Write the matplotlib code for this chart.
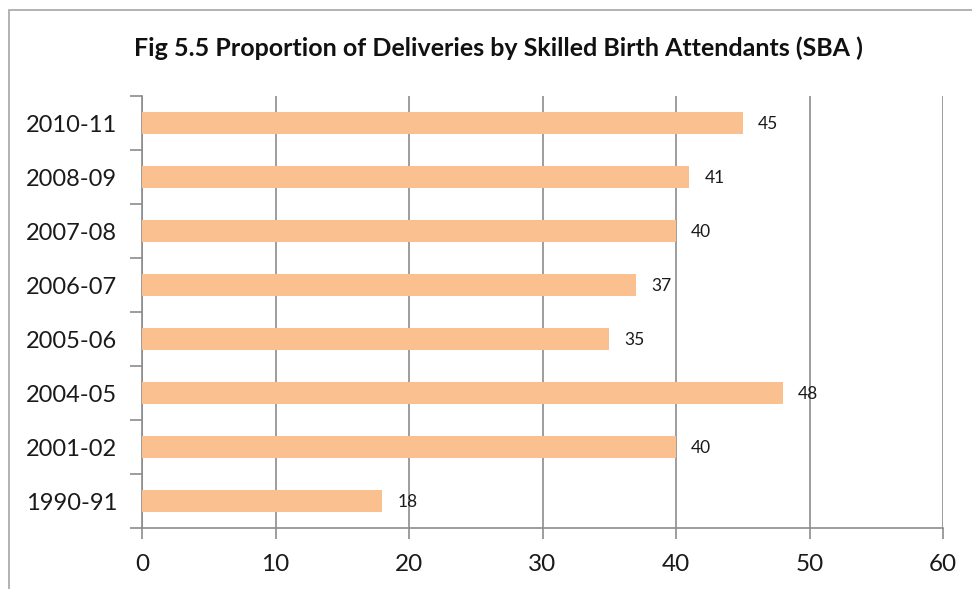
import matplotlib
matplotlib.use("Agg")
import matplotlib.pyplot as plt
from matplotlib.patches import Rectangle

categories = ["1990-91", "2001-02", "2004-05", "2005-06", "2006-07", "2007-08", "2008-09", "2010-11"]
values = [18, 40, 48, 35, 37, 40, 41, 45]
xticks = [0, 10, 20, 30, 40, 50, 60]
title = "Fig 5.5 Proportion of Deliveries by Skilled Birth Attendants (SBA )"

plt.rcParams['font.family'] = ['Lato', 'DejaVu Sans']

W, H = 972, 589
fig = plt.figure(figsize=(W / 100, H / 100), dpi=100)
fig.patch.set_facecolor('white')

# outer chart border (extends beyond right/bottom of image)
fig.patches.append(Rectangle((9 / W, -0.05), 1.1, (H - 10) / H + 0.05,
                             transform=fig.transFigure, fill=False,
                             edgecolor='#a6a6a6', linewidth=1.2))

ax = fig.add_axes([142 / W, (H - 528) / H, 801 / W, 432 / H])
ypos = list(range(len(categories)))
ax.barh(ypos, values, height=0.4, color='#FAC090', zorder=3)
ax.set_xlim(0, 60)
ax.set_ylim(-0.5, len(categories) - 0.5)
ax.set_xticks(xticks)
ax.set_xticklabels([str(t) for t in xticks], fontsize=17.5, color='#1a1a1a')
ax.set_yticks(ypos)
ax.set_yticklabels(categories, fontsize=17, color='#1a1a1a')
ax.tick_params(axis='y', length=0, pad=18)
ax.tick_params(axis='x', length=8, width=1.2, color='#8c8c8c', pad=11, direction='out')

# minor y ticks at category boundaries
ax.set_yticks([i - 0.5 for i in range(len(categories) + 1)], minor=True)
ax.tick_params(axis='y', which='minor', length=9, width=1.2, color='#8c8c8c', direction='out')

ax.grid(axis='x', color='#8c8c8c', linewidth=1.2, zorder=0)
for s in ['top', 'right']:
    ax.spines[s].set_visible(False)
for s in ['left', 'bottom']:
    ax.spines[s].set_color('#8c8c8c')
    ax.spines[s].set_linewidth(1.2)

for y, v in zip(ypos, values):
    ax.annotate(str(v), (v, y), xytext=(11, -1), textcoords='offset points',
                ha='left', va='center', fontsize=12.5, color='#1a1a1a')

fig.text(498 / W, 1 - 48 / H, title, ha='center', va='center',
         fontsize=18, fontweight='bold', color='#111111')

fig.savefig('out.png', dpi=100)
